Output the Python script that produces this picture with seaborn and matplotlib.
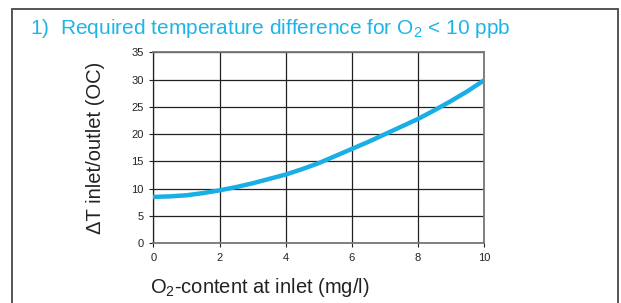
import matplotlib
matplotlib.use('Agg')
import matplotlib.pyplot as plt
import seaborn as sns
import pandas as pd
from matplotlib.patches import Rectangle

# O2 content at inlet (mg/l) and required delta T
o2_content = [0, 0.5, 1, 1.5, 2, 2.5, 3, 3.5, 4, 4.5, 5, 5.5, 6, 6.5, 7, 7.5, 8, 8.5, 9, 9.5, 10]
delta_t = [8.5, 8.6, 8.8, 9.2, 9.7, 10.3, 11.0, 11.8, 12.6, 13.6, 14.7, 16.0, 17.3, 18.6, 20.0, 21.4, 22.8, 24.4, 26.1, 27.9, 29.9]

x_ticks = [0, 2, 4, 6, 8, 10]
y_ticks = [0, 5, 10, 15, 20, 25, 30, 35]

sns.set_style('white')
plt.rcParams['font.family'] = ['Liberation Sans', 'DejaVu Sans']
plt.rcParams['mathtext.fontset'] = 'custom'
plt.rcParams['mathtext.rm'] = 'Liberation Sans'

blue = '#1aaee6'
df = pd.DataFrame({'o2': o2_content, 'dt': delta_t})

fig = plt.figure(figsize=(6.21, 3.03), dpi=100)
ax = fig.add_axes([0.2469, 0.197, 0.533, 0.6304])

sns.lineplot(data=df, x='o2', y='dt', ax=ax, color=blue, linewidth=3.2, zorder=5)

ax.set_xlim(0, 10)
ax.set_ylim(0, 35)
ax.set_xticks(x_ticks)
ax.set_yticks(y_ticks)
ax.tick_params(axis='both', labelsize=8, length=3, width=0.8, colors='#222222',
               direction='out', left=True, bottom=True, pad=4)
ax.grid(True, color='#222222', linewidth=0.9, zorder=0)
for side in ['top', 'right', 'bottom', 'left']:
    ax.spines[side].set_color('#777777')
    ax.spines[side].set_linewidth(1.3)
ax.spines['left'].set_color('#222222')
ax.spines['left'].set_linewidth(0.9)

ax.set_xlabel(r'O$_\mathregular{2}$-content at inlet (mg/l)', fontsize=14.5,
              color='#222222')
ax.xaxis.set_label_coords(-0.01, -0.229)
ax.xaxis.label.set_horizontalalignment('left')
ax.xaxis.label.set_verticalalignment('center')
ax.set_ylabel('\u0394T inlet/outlet (OC)', fontsize=14.5, color='#222222')
ax.yaxis.set_label_coords(-0.176, 0.5)
ax.yaxis.label.set_verticalalignment('center')

fig.text(30 / 621, 1 - 28 / 303,
         r'1)  Required temperature difference for O$_\mathregular{2}$ < 10 ppb',
         fontsize=15, color='#1eb4e8', va='center', ha='left')

fig.add_artist(Rectangle((12 / 621, -0.2), (618 - 12) / 621, 1.2 - 9 / 303,
                         transform=fig.transFigure, fill=False,
                         edgecolor='#555555', linewidth=1.4, clip_on=False))

fig.savefig('out.png', dpi=100)
